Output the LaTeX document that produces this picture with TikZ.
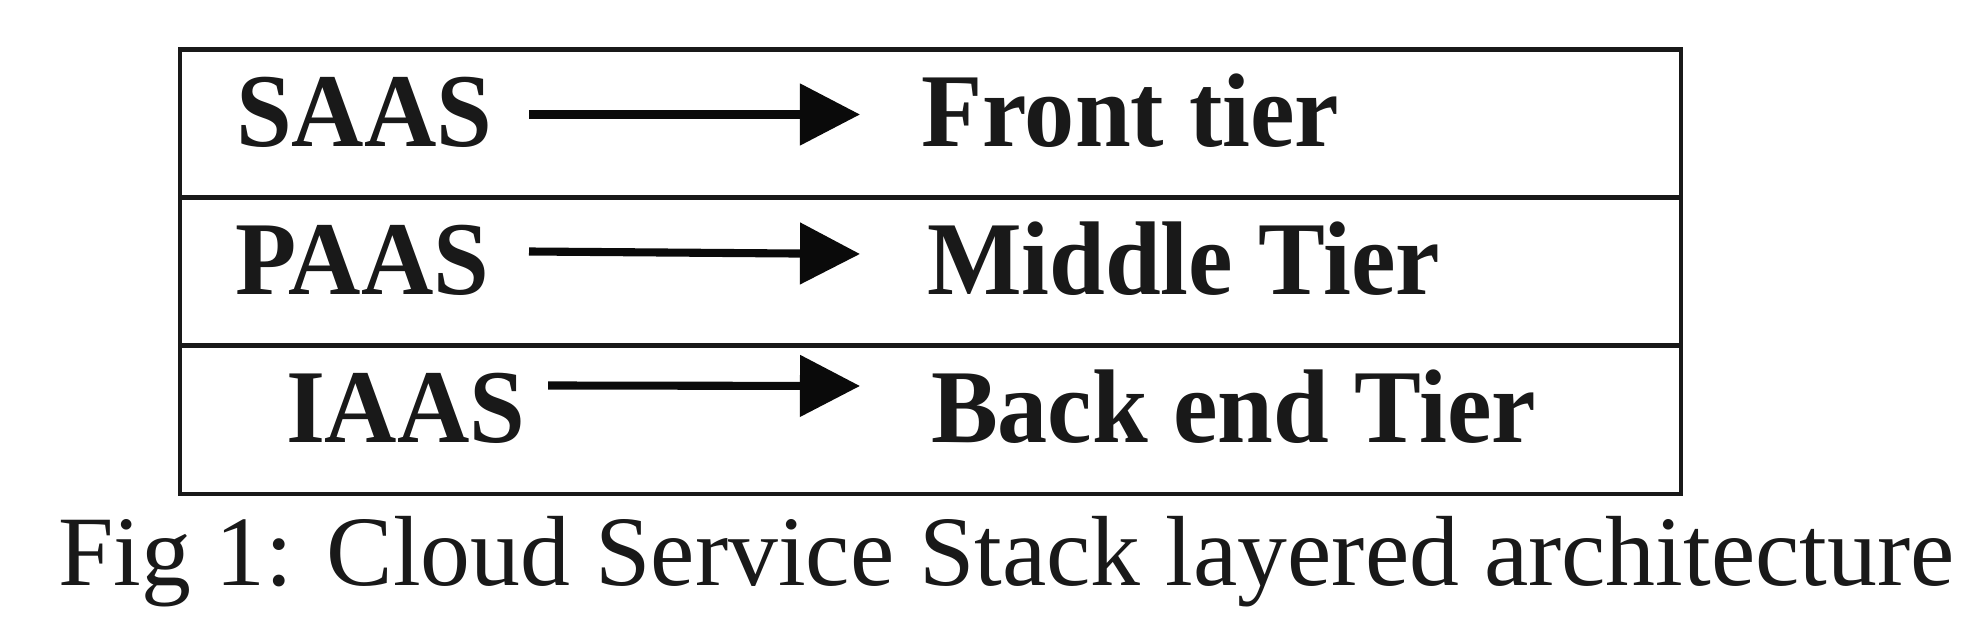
\documentclass[tikz,border=0pt]{standalone}
\usepackage{fontspec}
\setmainfont{Liberation Serif}
\usetikzlibrary{arrows.meta}
\definecolor{ink}{rgb}{0.1,0.1,0.1}
\definecolor{arrowink}{rgb}{0.04,0.04,0.04}
\newcommand{\tallbox}[1]{\scalebox{1}[1.045]{#1}}
\begin{document}
\begin{tikzpicture}[x=0.01cm,y=-0.01cm,
  lbl/.style={anchor=base west,inner sep=0pt,outer sep=0pt,text=ink,
    font=\fontsize{28.5}{34}\selectfont\bfseries},
  captext/.style={anchor=base west,inner sep=0pt,outer sep=0pt,text=ink,
    font=\fontsize{28.35}{34}\selectfont},
  frame/.style={draw=ink,line width=1.15pt},
  conn/.style={draw=arrowink,line width=2.3pt,
    -{Triangle[length=0.6cm,width=0.6cm]}}]
\useasboundingbox (0,0) rectangle (1980,628);
% table frame
\draw[frame] (180,49.5) rectangle (1681,494);
\draw[frame] (180,197.5) -- (1681,197.5);
\draw[frame] (180,345.5) -- (1681,345.5);
% labels
\node[lbl] (saas) at (236,147) {\tallbox{SAAS}};
\node[lbl] (front) at (921,147) {\tallbox{Front tier}};
\node[lbl] (paas) at (235,295) {\tallbox{PAAS}};
\node[lbl] (middle) at (927,295) {\tallbox{Middle Tier}};
\node[lbl] (iaas) at (286,443) {\tallbox{IAAS}};
\node[lbl] (back) at (931,443) {\tallbox{Back end Tier}};
% connector ends
\coordinate (s1) at (529,114.5);
\coordinate (e1) at (860,114.5);
\coordinate (s2) at (529,251.5);
\coordinate (e2) at (860,254);
\coordinate (s3) at (548,385.5);
\coordinate (e3) at (860,386);
\draw[conn] (s1) -- (e1);
\draw[conn] (s2) -- (e2);
\draw[conn] (s3) -- (e3);
% caption
\node[captext] (caption) at (58,585) {Fig 1: Cloud Service Stack layered architecture};
\end{tikzpicture}
\end{document}
